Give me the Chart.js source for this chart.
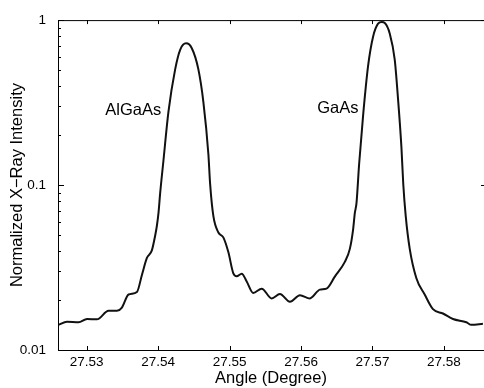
<!DOCTYPE html>
<html>
<head>
<meta charset="utf-8">
<script src="https://cdn.jsdelivr.net/npm/chart.js@4.4.1/dist/chart.umd.min.js"></script>
<style>
  html, body { margin:0; padding:0; background:#fff; }
  #wrap { width:484px; height:388px; position:relative; }
</style>
</head>
<body>
<div id="wrap"><canvas id="xrd"></canvas></div>
<script>
// angle (degree) and normalized intensity
const ANGLE = [
  27.52605, 27.52726, 27.52888, 27.53006, 27.53145, 27.53307, 27.53425, 27.53494,
  27.53587, 27.53704, 27.53774, 27.53844, 27.53913, 27.53959, 27.53983, 27.54006,
  27.54029, 27.54075, 27.54145, 27.54239, 27.54309, 27.54392, 27.54472, 27.54564,
  27.54634, 27.54704, 27.54728, 27.54774, 27.54844, 27.54913, 27.54983, 27.55053,
  27.55100, 27.55170, 27.55240, 27.55332, 27.55450, 27.55589, 27.55705, 27.55845,
  27.55985, 27.56124, 27.56264, 27.56357, 27.56473, 27.56613, 27.56683, 27.56729,
  27.56753, 27.56776, 27.56813, 27.56869, 27.56938, 27.57008, 27.57078, 27.57130,
  27.57172, 27.57241, 27.57311, 27.57357, 27.57405, 27.57430, 27.57465, 27.57521,
  27.57614, 27.57730, 27.57846, 27.57986, 27.58126, 27.58313, 27.58383, 27.58545
];
const INTENSITY = [
  0.01421, 0.01486, 0.01472, 0.01542, 0.01534, 0.01727, 0.01727, 0.01807,
  0.02170, 0.02248, 0.02851, 0.03613, 0.04014, 0.04927, 0.05647, 0.06773,
  0.08904, 0.1404, 0.2779, 0.5028, 0.6609, 0.7230, 0.6756, 0.5028,
  0.3187, 0.1538, 0.1021, 0.06475, 0.05157, 0.04814, 0.03922, 0.02914,
  0.02800, 0.02903, 0.02603, 0.02218, 0.02355, 0.02055, 0.02188, 0.01962,
  0.02149, 0.02055, 0.02323, 0.02355, 0.02786, 0.03420, 0.04102, 0.05393,
  0.06773, 0.07766, 0.1341, 0.2657, 0.5260, 0.7928, 0.9507, 0.9730,
  0.9598, 0.8293, 0.5765, 0.3338, 0.1685, 0.1021, 0.06475, 0.04102,
  0.02723, 0.02170, 0.01768, 0.01665, 0.01542, 0.01472, 0.01421, 0.01441
];

const X_TICKS = [27.53, 27.54, 27.55, 27.56, 27.57, 27.58];
const Y_TICKS = [0.01, 0.1, 1];
const Y_MINOR = [0.02,0.03,0.04,0.05,0.06,0.07,0.08,0.09,0.2,0.3,0.4,0.5,0.6,0.7,0.8,0.9];
const PEAKS = [
  { text:"AlGaAs", x:27.53652, y:0.285 },
  { text:"GaAs",   x:27.56515, y:0.292 }
];

const FONT = "'Liberation Sans', Arial, Helvetica, sans-serif";

// box, inward ticks and peak labels (matlab-ish look)
// right axis sits just past the canvas edge, so only the long major ticks show there
const frame = {
  id:"frame",
  afterDraw(chart){
    const { ctx, chartArea:a, scales:{ x, y } } = chart;
    ctx.save();
    ctx.strokeStyle = "#000";
    ctx.lineWidth = 1;
    ctx.beginPath();
    ctx.moveTo(a.left + 0.5, a.top + 0.5);
    ctx.lineTo(a.right, a.top + 0.5);
    ctx.moveTo(a.left + 0.5, a.top);
    ctx.lineTo(a.left + 0.5, a.bottom + 0.5);
    ctx.lineTo(a.right, a.bottom + 0.5);
    X_TICKS.forEach(v => {
      const px = Math.round(x.getPixelForValue(v)) + 0.5;
      ctx.moveTo(px, a.bottom); ctx.lineTo(px, a.bottom - 4);
      ctx.moveTo(px, a.top); ctx.lineTo(px, a.top + 4);
    });
    Y_TICKS.forEach(v => {
      const py = Math.round(y.getPixelForValue(v)) + 0.5;
      ctx.moveTo(a.left, py); ctx.lineTo(a.left + 6, py);
      ctx.moveTo(a.right, py); ctx.lineTo(a.right - 3, py);
    });
    Y_MINOR.forEach(v => {
      const py = Math.round(y.getPixelForValue(v)) + 0.5;
      ctx.moveTo(a.left, py); ctx.lineTo(a.left + 3, py);
    });
    ctx.stroke();

    ctx.fillStyle = "#000";
    ctx.font = `16.5px ${FONT}`;
    ctx.textAlign = "center";
    ctx.textBaseline = "middle";
    PEAKS.forEach(p => ctx.fillText(p.text, x.getPixelForValue(p.x), y.getPixelForValue(p.y)));
    ctx.restore();
  }
};

new Chart(document.getElementById("xrd"), {
  type:"line",
  data:{
    datasets:[{
      data: ANGLE.map((a, i) => ({ x:a, y:INTENSITY[i] })),
      borderColor:"#111",
      borderWidth:2,
      pointRadius:0,
      cubicInterpolationMode:"monotone",
      fill:false
    }]
  },
  options:{
    responsive:true,
    maintainAspectRatio:false,
    animation:false,
    layout:{ padding:{ top:13, right:0, left:0, bottom:0 } },
    plugins:{ legend:{ display:false }, tooltip:{ enabled:false } },
    scales:{
      x:{
        type:"linear",
        min:27.526, max:27.5856,
        afterBuildTicks:(s)=>{ s.ticks = X_TICKS.map(v => ({ value:v })); },
        afterFit:(s)=>{ s.height = 38; },
        grid:{ display:false, drawTicks:false },
        border:{ display:false },
        ticks:{ color:"#000", font:{ family:FONT, size:13.5 }, padding:4, maxRotation:0,
                callback:(v)=> v.toFixed(2) },
        title:{ display:true, text:"Angle (Degree)", color:"#000",
                font:{ family:FONT, size:16.5 }, padding:{ top:0, bottom:0 } }
      },
      y:{
        type:"logarithmic",
        min:0.01, max:1,
        afterBuildTicks:(s)=>{ s.ticks = Y_TICKS.map(v => ({ value:v })); },
        afterFit:(s)=>{ s.width = 58; },
        grid:{ display:false, drawTicks:false },
        border:{ display:false },
        ticks:{ color:"#000", font:{ family:FONT, size:13.5 }, padding:12,
                callback:(v)=> String(v) },
        title:{ display:true, text:"Normalized X\u2212Ray Intensity", color:"#000",
                font:{ family:FONT, size:16.5 }, padding:{ top:8, bottom:0 } }
      }
    }
  },
  plugins:[frame]
});
</script>
</body>
</html>
